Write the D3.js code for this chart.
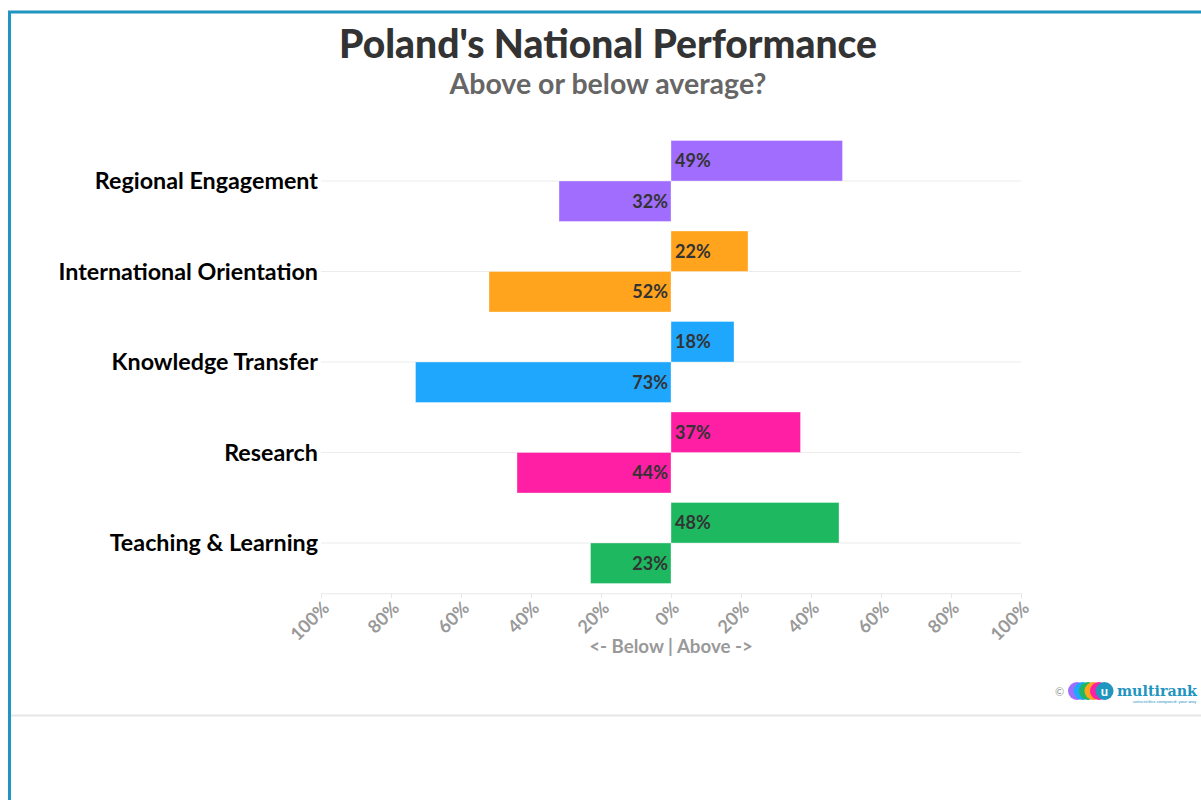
<!DOCTYPE html>
<html>
<head>
<meta charset="utf-8">
<script src="https://cdn.jsdelivr.net/npm/d3@7"></script>
<style>
  body { margin: 0; background: #fff; }
  text { font-family: Lato, "Open Sans", sans-serif; }
</style>
</head>
<body>
<div id="chart"></div>
<script>
// data
const categories = ["Regional Engagement", "International Orientation", "Knowledge Transfer", "Research", "Teaching & Learning"];
const above = [49, 22, 18, 37, 48];
const below = [32, 52, 73, 44, 23];
const colors = ["#a06dfe", "#ffa41c", "#1ea7fd", "#fe1fa4", "#1db860"];
const tickValues = [-100, -80, -60, -40, -20, 0, 20, 40, 60, 80, 100];

const W = 1201, H = 800;
let margin = {top: 135.75, left: 321, right: 180, bottom: 211.75};
const width = W - margin.left - margin.right,
      height = H - margin.top - margin.bottom;

const svg = d3.select("#chart").append("svg")
    .attr("width", W)
    .attr("height", H);

// frame
svg.append("path")
    .attr("d", "M9.5," + H + "V12H" + W)
    .attr("fill", "none")
    .attr("stroke", "#1f95bf")
    .attr("stroke-width", 3);

svg.append("line")
    .attr("x1", 11).attr("x2", W)
    .attr("y1", 715.5).attr("y2", 715.5)
    .attr("stroke", "#e6e6e6")
    .attr("stroke-width", 2);

// titles
svg.append("text")
    .attr("x", 608).attr("y", 58)
    .attr("text-anchor", "middle")
    .attr("font-size", 39)
    .attr("font-weight", 900)
    .attr("fill", "#333")
    .text("Poland's National Performance");

svg.append("text")
    .attr("x", 608).attr("y", 94)
    .attr("text-anchor", "middle")
    .attr("font-size", 28.5)
    .attr("font-weight", 700)
    .attr("fill", "#666")
    .text("Above or below average?");

const g = svg.append("g")
    .attr("transform", "translate(" + margin.left + "," + margin.top + ")");

const x = d3.scaleLinear()
    .domain([-100, 100])
    .range([0, width]);

const y = d3.scaleBand()
    .domain(categories)
    .range([0, height])
    .paddingInner(0.105)
    .paddingOuter(0.0525);

// gridlines
g.append("g")
    .selectAll("line")
    .data(categories)
    .enter()
    .append("line")
        .attr("x1", 0).attr("x2", width)
        .attr("y1", d => y(d) + y.bandwidth() / 2)
        .attr("y2", d => y(d) + y.bandwidth() / 2)
        .attr("stroke", "#ececec")
        .attr("stroke-width", 1);

// x axis
const xAxis = g.append("g")
    .attr("transform", "translate(0," + (height + 5) + ")")
    .call(d3.axisBottom(x).tickValues(tickValues).tickSize(5).tickFormat(d => Math.abs(d) + "%"));
xAxis.select(".domain").attr("stroke", "#e8e8e8");
xAxis.selectAll(".tick line").attr("stroke", "#e8e8e8");
xAxis.selectAll(".tick text")
    .attr("fill", "#999")
    .attr("font-size", 18)
    .attr("font-weight", 700)
    .style("font-family", "Lato, sans-serif")
    .attr("text-anchor", "end")
    .attr("y", 0)
    .attr("dy", null)
    .attr("transform", "translate(9,16) rotate(-45)");

svg.append("text")
    .attr("x", margin.left + x(0)).attr("y", 653)
    .attr("text-anchor", "middle")
    .attr("font-size", 18.7)
    .attr("font-weight", 700)
    .attr("fill", "#999")
    .text("<- Below | Above ->");

// category labels
g.append("g")
    .selectAll("text")
    .data(categories)
    .enter()
    .append("text")
        .attr("x", -3)
        .attr("y", d => y(d) + y.bandwidth() / 2)
        .attr("dy", "0.36em")
        .attr("text-anchor", "end")
        .attr("font-size", 23.3)
        .attr("font-weight", 700)
        .attr("fill", "#000")
        .text(d => d);

const half = y.bandwidth() / 2;

// above bars
g.append("g")
    .selectAll("rect")
    .data(categories)
    .enter()
    .append("rect")
        .attr("x", x(0))
        .attr("y", d => y(d))
        .attr("width", (d, i) => x(above[i]) - x(0))
        .attr("height", half)
        .attr("fill", (d, i) => colors[i])
        .attr("stroke", "rgba(255,255,255,0.35)")
        .attr("stroke-width", 1);

// below bars
g.append("g")
    .selectAll("rect")
    .data(categories)
    .enter()
    .append("rect")
        .attr("x", (d, i) => x(-below[i]))
        .attr("y", d => y(d) + half)
        .attr("width", (d, i) => x(0) - x(-below[i]))
        .attr("height", half)
        .attr("fill", (d, i) => colors[i])
        .attr("stroke", "rgba(255,255,255,0.35)")
        .attr("stroke-width", 1);

// value labels
g.append("g")
    .selectAll("text")
    .data(categories)
    .enter()
    .append("text")
        .attr("x", x(0) + 4)
        .attr("y", d => y(d) + half / 2)
        .attr("dy", "0.36em")
        .attr("font-size", 18)
        .attr("font-weight", 700)
        .attr("fill", "#333")
        .text((d, i) => above[i] + "%");

g.append("g")
    .selectAll("text")
    .data(categories)
    .enter()
    .append("text")
        .attr("x", x(0) - 3)
        .attr("y", d => y(d) + half * 1.5)
        .attr("dy", "0.36em")
        .attr("text-anchor", "end")
        .attr("font-size", 18)
        .attr("font-weight", 700)
        .attr("fill", "#333")
        .text((d, i) => below[i] + "%");

// multirank logo
const logo = svg.append("g").attr("transform", "translate(1055,691)");
logo.append("text")
    .attr("x", 0).attr("y", 5)
    .attr("font-size", 11)
    .attr("fill", "#999")
    .text("\u00a9");
const dots = ["#a06dfe", "#1ea7fd", "#1db860", "#ffa41c", "#fe1fa4", "#1f95bf"];
logo.selectAll("circle")
    .data(dots)
    .enter()
    .append("circle")
        .attr("cx", (d, i) => 22 + i * 5.5)
        .attr("cy", 0)
        .attr("r", 9)
        .attr("fill", d => d);
logo.append("text")
    .attr("x", 49.5).attr("y", 4.5)
    .attr("text-anchor", "middle")
    .attr("font-size", 13)
    .attr("font-weight", 700)
    .attr("fill", "#fff")
    .text("u");
logo.append("text")
    .attr("x", 62).attr("y", 5)
    .attr("font-size", 15)
    .attr("font-weight", 700)
    .attr("textLength", 80)
    .attr("lengthAdjust", "spacingAndGlyphs")
    .style("font-family", "'DejaVu Serif', serif")
    .attr("fill", "#1f95bf")
    .text("multirank");
logo.append("text")
    .attr("x", 78).attr("y", 12)
    .attr("font-size", 4.5)
    .attr("fill", "#1f95bf")
    .text("universities compared. your way");
</script>
</body>
</html>
